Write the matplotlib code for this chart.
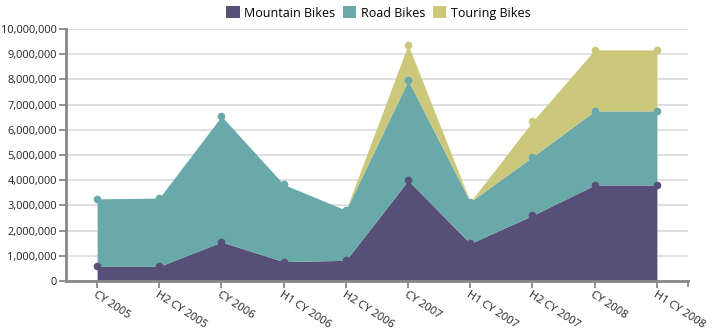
import matplotlib.pyplot as plt
import numpy as np
from matplotlib.patches import Patch
from matplotlib.ticker import FuncFormatter

# --- data (sales per period) ---
periods  = ['CY 2005', 'H2 CY 2005', 'CY 2006', 'H1 CY 2006', 'H2 CY 2006',
            'CY 2007', 'H1 CY 2007', 'H2 CY 2007', 'CY 2008', 'H1 CY 2008']
mountain = [580000, 580000, 1550000, 770000, 820000,
            3990000, 1490000, 2600000, 3810000, 3810000]
road     = [2680000, 2710000, 4990000, 3060000, 1990000,
            3970000, 1650000, 2330000, 2940000, 2940000]
touring  = [0, 0, 0, 0, 0,
            1420000, 0, 1400000, 2420000, 2420000]

series = [('Mountain Bikes', mountain, '#564f77'),
          ('Road Bikes', road, '#6aa9a9'),
          ('Touring Bikes', touring, '#cbc87b')]

plt.rcParams['font.family'] = ['Open Sans', 'DejaVu Sans']

fig = plt.figure(figsize=(7.12, 3.33), dpi=100)
ax = fig.add_axes([66/712, 1 - 281/333, 622/712, 252/333])

x = np.arange(len(periods))
base = np.zeros(len(periods))
tops = []
for name, vals, color in series:
    top = base + np.array(vals)
    ax.fill_between(x, base, top, color=color, linewidth=0, zorder=2)
    tops.append((top, np.array(vals), color))
    base = top

# dots on each series' upper edge
for i, (top, vals, color) in enumerate(tops):
    mask = vals > 0
    ax.plot(x[mask], top[mask], 'o', color=color, markersize=5.5,
            markeredgewidth=0, zorder=3 + (len(tops) - i))

ax.set_xlim(-0.5, len(periods) - 0.5)
ax.set_ylim(0, 10_000_000)
ax.set_yticks(np.arange(0, 10_000_001, 1_000_000))
ax.yaxis.set_major_formatter(FuncFormatter(lambda v, _: f'{int(v):,}'))
ax.grid(axis='y', color='#dddddd', linewidth=1.3, zorder=0)
ax.set_axisbelow(True)

ax.set_xticks(x)
ax.set_xticklabels(periods, rotation=-33, ha='left', va='top',
                   rotation_mode='anchor', fontsize=8)

for s in ['top', 'right']:
    ax.spines[s].set_visible(False)
for s in ['left', 'bottom']:
    ax.spines[s].set_color('#888888')
    ax.spines[s].set_linewidth(2)
ax.tick_params(axis='both', colors='#888888', labelcolor='#222222',
               length=5, width=1.3)
ax.tick_params(axis='y', pad=1.5, labelsize=7.9)
ax.tick_params(axis='x', pad=1)

# outer tick at the right end of the x axis
ax.plot([1, 1], [0, -5/252], color='#888888', linewidth=1.3,
        transform=ax.transAxes, clip_on=False)

handles = [Patch(facecolor=c, edgecolor='none', label=n) for n, _, c in series]
fig.legend(handles=handles, loc='upper center', ncol=3, frameon=False,
           bbox_to_anchor=(378/712, 1.015), fontsize=9, handlelength=1.1,
           handleheight=1.1, handletextpad=0.35, columnspacing=0.6)

fig.savefig('out.png', dpi=100)
